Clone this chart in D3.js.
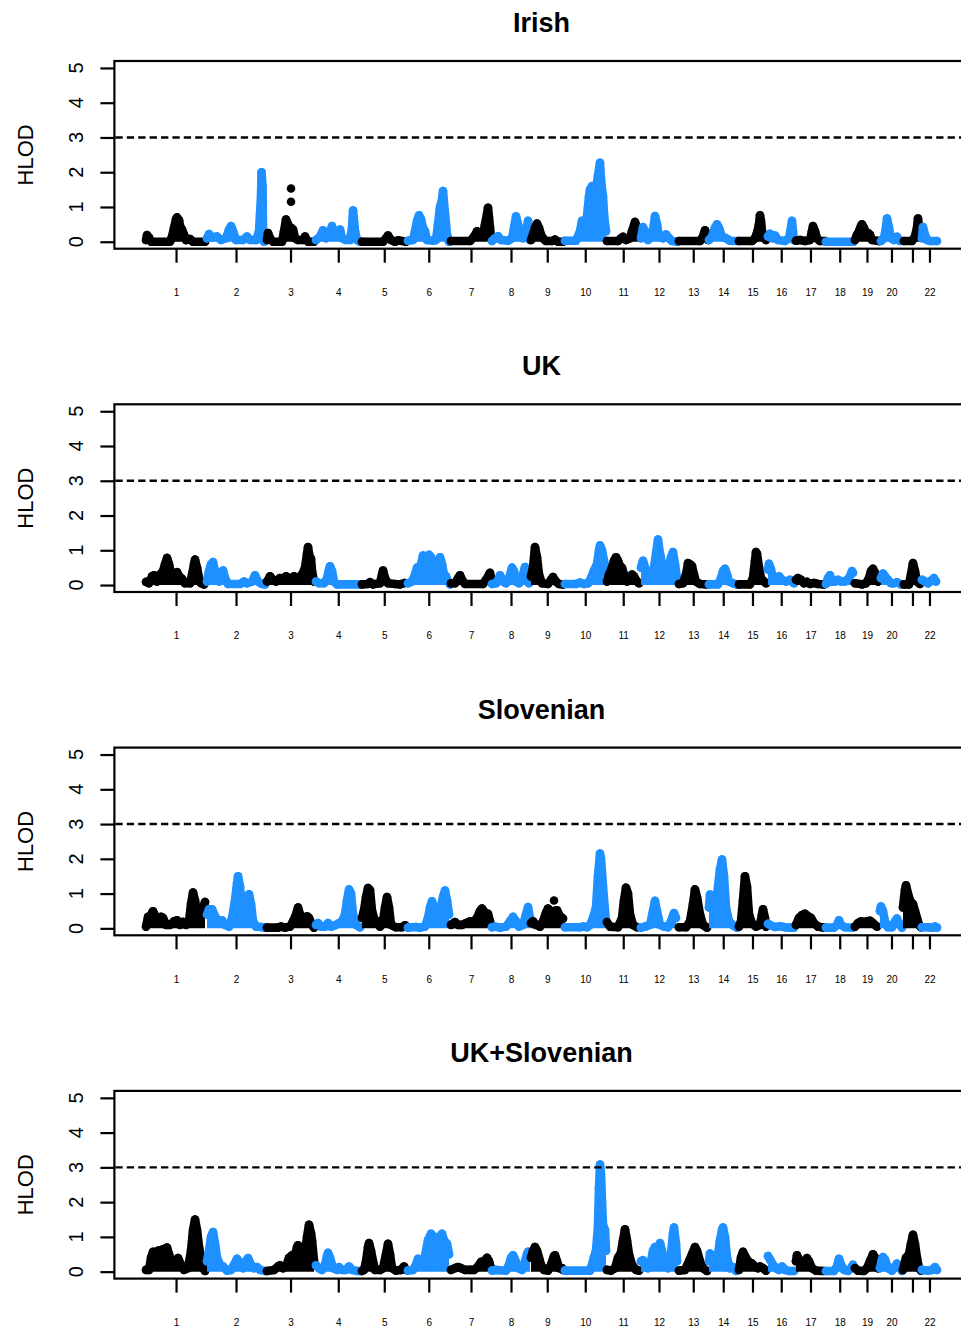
<!DOCTYPE html>
<html>
<head>
<meta charset="utf-8">
<script src="https://cdn.jsdelivr.net/npm/d3@7"></script>
<style>
  body { margin: 0; background: #fff; }
  svg { display: block; font-family: "Liberation Sans", Arial, Helvetica, sans-serif; }
</style>
</head>
<body>
<svg id="chart" width="961" height="1329"></svg>
<script>
// chromosome lengths (cM) and axis labels (21 is not labelled in the original)
const chromLenCM = [240, 240, 196, 186, 182, 174, 164, 156, 134, 170, 134, 152, 122, 118, 116, 114, 120, 114, 104, 92, 76, 60];
const tickLabels = ['1','2','3','4','5','6','7','8','9','10','11','12','13','14','15','16','17','18','19','20','','22'];
const yTicks = [0, 1, 2, 3, 4, 5];
const threshold = 3;
const panelTitles = ['Irish', 'UK', 'Slovenian', 'UK+Slovenian'];

// HLOD profiles, one list of [cM, HLOD] per chromosome
const irishHlod = [
  [[0,.05],[4,.19],[12,.12],[20,0],[96,0],[104,.15],[112,.4],[120,.65],[124,.7],[132,.62],[136,.45],[144,.35],[152,.2],[160,.05],[176,.08],[188,0],[236,0]],
  [[4,.1],[12,.22],[24,.12],[44,.15],[60,.05],[80,.1],[92,.35],[100,.45],[108,.3],[120,.05],[148,.05],[164,.15],[176,.05],[200,.05],[212,.3],[216,.8],[220,1.3],[222,2.0],[226,1.6],[228,.3],[232,0]],
  [[4,.05],[8,.25],[16,.1],[28,0],[64,0],[72,.3],[80,.64],[88,.5],[92,.2],[100,.4],[108,.35],[116,.1],[128,.05],[148,.05],[156,.15],[168,0],[192,0]],
  [[4,.05],[20,.15],[32,.33],[44,.1],[56,.2],[68,.45],[80,.15],[92,.2],[100,.35],[108,.1],[124,.05],[140,.05],[148,.4],[152,.9],[156,.6],[160,.3],[168,.05],[180,0]],
  [[2,0],[86,0],[98,.1],[106,.18],[118,.05],[134,0],[146,.04],[178,0]],
  [[4,.03],[24,.05],[32,.3],[40,.6],[48,.76],[56,.65],[64,.4],[72,.3],[80,.05],[104,.03],[116,.05],[124,.5],[132,1.0],[140,1.2],[144,1.46],[148,1.1],[152,.8],[156,.5],[160,.2],[168,0]],
  [[2,.02],[78,.02],[94,.15],[106,.3],[118,.15],[130,.2],[138,.5],[146,.8],[150,.98],[154,.7],[158,.4],[162,.1]],
  [[2,.02],[14,.1],[26,.16],[38,.05],[66,.03],[82,.1],[90,.4],[98,.73],[106,.5],[114,.2],[126,.1],[138,.3],[146,.6],[150,.3],[154,.05]],
  [[2,.05],[10,.2],[18,.4],[26,.52],[34,.4],[42,.2],[50,.1],[62,.02],[86,.02],[98,.06],[110,0],[130,0]],
  [[4,.03],[48,.03],[64,.3],[72,.6],[80,.3],[88,.5],[96,1.0],[100,1.3],[104,1.5],[112,1.6],[120,1.45],[128,1.5],[136,1.9],[144,2.27],[148,1.8],[152,1.5],[156,1.3],[160,.8],[164,.5],[168,.3]],
  [[2,.02],[46,.02],[58,.1],[66,.14],[78,.05],[94,.1],[102,.3],[114,.57],[122,.4],[130,.2]],
  [[4,.1],[12,.42],[20,.3],[32,.05],[48,.2],[56,.5],[60,.74],[68,.5],[76,.15],[92,.1],[104,.21],[116,.1],[128,.02],[148,0]],
  [[4,.02],[88,.02],[100,.15],[108,.33],[116,.2],[120,.05]],
  [[2,.05],[14,.15],[26,.4],[34,.5],[42,.4],[54,.15],[70,.1],[86,.03],[114,.02]],
  [[4,.02],[56,.02],[68,.1],[76,.25],[84,.5],[88,.76],[92,.6],[96,.3],[104,.15],[112,.05]],
  [[4,.15],[12,.23],[24,.1],[32,.18],[44,.05],[72,.02],[88,.1],[96,.4],[100,.6],[104,.3],[108,.05]],
  [[2,.03],[18,.05],[38,.02],[58,.05],[66,.3],[70,.45],[78,.3],[86,.1],[98,.02],[118,.02]],
  [[2,0],[112,0]],
  [[4,.05],[12,.2],[20,.3],[28,.45],[32,.5],[40,.4],[48,.2],[56,.25],[64,.2],[72,.05],[100,.02]],
  [[4,.02],[16,.1],[24,.4],[28,.67],[36,.4],[44,.1],[56,.05],[68,.14],[80,.02]],
  [[4,.02],[36,.02],[48,.15],[56,.4],[60,.67],[64,.45],[72,.2]],
  [[0,.1],[4,.42],[12,.2],[20,.05],[36,.02],[60,.02]]
];
const irishExtra = [[3, 100, 1.53], [3, 100, 1.15]]; // [chromosome, cM, HLOD]

const ukHlod = [
  [[0,.09],[12,.05],[24,.25],[32,.28],[44,.1],[56,.3],[68,.4],[76,.6],[84,.78],[92,.6],[100,.3],[112,.2],[124,.37],[132,.25],[144,.18],[156,.05],[176,.05],[184,.3],[192,.6],[196,.73],[204,.5],[212,.2],[220,.05],[232,.02]],
  [[4,.1],[12,.4],[20,.6],[28,.66],[36,.4],[44,.2],[52,.1],[60,.3],[68,.42],[76,.2],[88,.03],[136,.03],[152,.1],[164,.05],[184,.1],[196,.28],[208,.1],[224,.03],[236,.02]],
  [[4,.1],[16,.25],[28,.15],[40,.1],[56,.2],[68,.15],[80,.25],[96,.15],[112,.25],[128,.2],[144,.3],[156,.5],[164,.9],[168,1.09],[172,.9],[176,.6],[180,.76],[184,.4],[192,.1]],
  [[4,.1],[16,.05],[36,.05],[48,.2],[56,.45],[60,.54],[68,.4],[76,.1],[88,.02],[180,.02]],
  [[2,.02],[26,.03],[34,.08],[46,.02],[74,.05],[82,.3],[86,.42],[94,.2],[106,.05],[134,.03],[154,.02],[174,.06]],
  [[4,.05],[20,.1],[32,.3],[40,.5],[48,.4],[56,.6],[64,.85],[72,.7],[80,.7],[88,.87],[96,.8],[104,.6],[112,.55],[120,.6],[132,.8],[140,.6],[148,.3],[156,.25],[164,.1],[172,.02]],
  [[2,.05],[18,.05],[30,.2],[38,.28],[46,.15],[58,.03],[130,.03],[142,.15],[154,.3],[158,.35],[162,.2]],
  [[2,.03],[18,.05],[30,.2],[34,.28],[46,.1],[58,.05],[70,.2],[82,.5],[90,.4],[98,.1],[110,.05],[122,.2],[134,.52],[142,.3],[150,.05]],
  [[2,.25],[10,.5],[18,1.09],[26,.8],[34,.3],[46,.05],[70,.03],[82,.15],[90,.23],[102,.1],[114,.03],[130,.02]],
  [[4,.03],[48,.03],[64,.07],[80,.03],[96,.05],[108,.2],[120,.42],[132,.6],[140,1.0],[144,1.14],[152,1.0],[160,.7],[168,.4]],
  [[2,.1],[10,.3],[22,.5],[30,.7],[38,.8],[46,.7],[54,.55],[62,.5],[70,.3],[82,.1],[94,.15],[102,.3],[110,.25],[122,.1],[130,.05]],
  [[4,.5],[12,.7],[20,.5],[32,.2],[44,.3],[56,.5],[64,.9],[72,1.31],[80,.9],[92,.5],[104,.4],[116,.5],[124,.8],[132,.95],[140,.6],[148,.2]],
  [[4,.03],[20,.05],[32,.3],[40,.63],[48,.6],[56,.55],[64,.3],[72,.1],[88,.03],[116,.02]],
  [[2,.02],[38,.02],[50,.2],[58,.4],[66,.47],[74,.3],[82,.1],[98,.05],[114,.02]],
  [[4,.02],[48,.02],[60,.2],[68,.7],[72,.95],[76,.9],[84,.5],[92,.2],[104,.1],[112,.05]],
  [[4,.45],[8,.61],[16,.45],[24,.2],[36,.15],[48,.25],[60,.15],[76,.1],[92,.15],[108,.05]],
  [[2,.15],[10,.2],[22,.15],[34,.05],[46,.09],[58,.03],[74,.06],[90,.03],[114,.02]],
  [[2,.03],[10,.2],[18,.28],[26,.1],[38,.1],[50,.15],[62,.1],[78,.1],[94,.2],[106,.4],[110,.35]],
  [[4,.05],[32,.02],[48,.05],[60,.2],[68,.4],[76,.47],[84,.35],[96,.1]],
  [[4,.2],[12,.33],[20,.25],[32,.15],[44,.05],[56,.05],[68,.08],[84,.02]],
  [[4,.02],[24,.02],[32,.3],[40,.63],[48,.4],[56,.1],[68,.03]],
  [[0,.15],[12,.1],[24,.05],[36,.12],[48,.2],[56,.1]]
];
const ukExtra = [];

const slovenianHlod = [
  [[0,.05],[8,.33],[16,.3],[24,.45],[28,.49],[40,.3],[52,.2],[60,.33],[68,.3],[80,.1],[96,.1],[112,.2],[124,.23],[136,.1],[148,.18],[160,.1],[172,.2],[180,.7],[188,1.03],[196,.8],[204,.4],[216,.3],[228,.6],[236,.76]],
  [[4,.4],[12,.55],[24,.55],[36,.35],[48,.2],[64,.23],[76,.1],[92,.05],[104,.3],[116,.8],[124,1.3],[128,1.5],[136,1.2],[144,.5],[152,.3],[160,.5],[168,.85],[172,.98],[180,.7],[188,.2],[200,.05],[220,.04],[236,.02]],
  [[4,.02],[48,.02],[60,.05],[76,.02],[96,.05],[108,.2],[120,.4],[128,.6],[136,.4],[144,.2],[152,.25],[164,.35],[172,.3],[184,.1],[192,.02]],
  [[4,.1],[12,.15],[24,.05],[40,.05],[52,.15],[64,.05],[84,.1],[96,.15],[108,.2],[120,.4],[128,.8],[136,1.12],[144,1.0],[152,.4],[164,.1],[180,.03]],
  [[2,.3],[10,.52],[18,.9],[26,1.16],[34,1.1],[42,.5],[54,.2],[62,.2],[74,.05],[86,.2],[94,.6],[102,.9],[110,.6],[118,.1],[138,.03],[162,.03],[174,.09]],
  [[4,.02],[36,.04],[52,.02],[72,.05],[84,.3],[92,.6],[100,.78],[108,.6],[116,.3],[124,.3],[132,.5],[144,.9],[152,1.09],[160,.8],[168,.4]],
  [[2,.1],[18,.18],[30,.1],[46,.1],[62,.15],[78,.2],[94,.2],[106,.3],[118,.5],[126,.57],[138,.45],[150,.42],[158,.2]],
  [[2,.03],[14,.05],[34,.02],[58,.05],[74,.2],[86,.33],[98,.2],[110,.05],[126,.1],[138,.4],[146,.61],[154,.3]],
  [[2,.15],[10,.2],[22,.1],[38,.05],[50,.2],[62,.45],[70,.57],[82,.45],[94,.5],[106,.52],[118,.35],[130,.28]],
  [[4,.03],[64,.03],[76,.05],[92,.03],[104,.1],[116,.3],[128,.6],[136,1.5],[144,2.15],[148,2.0],[156,1.2],[164,.5],[168,.2]],
  [[2,.18],[14,.05],[46,.03],[62,.3],[70,.8],[78,1.17],[86,1.0],[94,.4],[106,.1],[122,.03]],
  [[4,.02],[20,.05],[40,.1],[52,.5],[60,.79],[68,.5],[80,.1],[96,.05],[112,.03],[124,.2],[136,.44],[144,.3]],
  [[4,.03],[32,.03],[48,.2],[60,.7],[68,1.12],[76,.9],[88,.4],[100,.1],[116,.02]],
  [[2,.6],[6,.97],[14,.8],[22,.6],[30,.7],[38,1.2],[46,1.7],[54,1.98],[62,1.5],[70,.6],[82,.2],[98,.09],[114,.02]],
  [[4,.05],[12,.2],[20,.8],[28,1.5],[36,1.2],[44,.4],[56,.15],[72,.05],[88,.1],[96,.4],[100,.55],[108,.3],[112,.05]],
  [[4,.13],[16,.08],[32,.04],[52,.06],[72,.03],[92,.02],[108,.02]],
  [[2,.1],[14,.3],[26,.38],[38,.42],[50,.35],[62,.3],[74,.15],[90,.05],[114,.02]],
  [[2,.02],[34,.02],[46,.1],[54,.23],[62,.1],[78,.03],[110,.02]],
  [[4,.05],[16,.15],[28,.2],[40,.18],[52,.2],[64,.22],[76,.15],[92,.05]],
  [[0,.5],[4,.63],[12,.5],[20,.2],[32,.03],[48,.03],[60,.2],[68,.28],[76,.15],[88,.02]],
  [[0,.6],[8,1.1],[12,1.24],[20,1.0],[28,.8],[40,.7],[48,.5],[56,.3],[64,.1],[72,.03]],
  [[0,.03],[24,.03],[40,.02],[52,.05],[60,.02]]
];
const slovenianExtra = [[9, 94, 0.8]];

const ukSlovenianHlod = [
  [[0,.05],[12,.05],[20,.4],[28,.57],[36,.4],[48,.6],[60,.62],[72,.65],[84,.69],[92,.5],[104,.2],[116,.3],[128,.39],[140,.2],[152,.05],[168,.1],[180,.6],[188,1.2],[196,1.5],[204,1.2],[212,.7],[220,.4],[228,.1],[236,.02]],
  [[4,.3],[12,.6],[20,1.0],[28,1.14],[36,.8],[44,.4],[56,.2],[68,.15],[84,.03],[100,.05],[112,.2],[124,.37],[136,.25],[148,.1],[160,.3],[168,.39],[180,.2],[192,.1],[204,.13],[216,.05],[236,.02]],
  [[4,.02],[32,.05],[48,.15],[56,.18],[68,.1],[80,.15],[92,.4],[104,.47],[116,.5],[124,.7],[128,.76],[136,.6],[148,.4],[156,.5],[164,1.0],[172,1.35],[180,1.1],[184,.9],[192,.3]],
  [[4,.18],[16,.1],[28,.05],[40,.2],[48,.45],[52,.54],[60,.4],[72,.1],[88,.05],[96,.13],[108,.05],[124,.05],[136,.15],[148,.05],[168,.02],[184,.02]],
  [[2,.02],[10,.05],[18,.3],[26,.7],[30,.82],[38,.6],[46,.3],[54,.05],[74,.05],[86,.1],[98,.5],[106,.8],[114,.5],[122,.1],[138,.03],[158,.05],[170,.15],[178,.05]],
  [[4,.03],[24,.05],[36,.2],[44,.37],[52,.2],[64,.2],[76,.6],[84,.9],[96,1.09],[108,1.0],[120,.95],[128,1.0],[140,1.09],[148,.9],[160,.8],[168,.5]],
  [[2,.05],[18,.1],[30,.13],[42,.1],[58,.05],[78,.05],[94,.05],[110,.15],[122,.28],[134,.3],[146,.4],[154,.3],[162,.1]],
  [[2,.03],[18,.05],[34,.04],[58,.03],[70,.2],[78,.4],[86,.47],[94,.35],[106,.1],[122,.05],[134,.3],[142,.5],[146,.57],[154,.4]],
  [[2,.4],[10,.6],[18,.71],[26,.6],[34,.4],[42,.2],[54,.05],[70,.03],[82,.2],[94,.45],[98,.47],[106,.3],[114,.1],[126,.1],[130,.05]],
  [[4,.03],[104,.03],[112,.2],[120,.42],[128,.6],[136,1.3],[140,2.4],[144,3.08],[148,2.8],[152,2.0],[156,1.35],[164,1.2],[168,.6]],
  [[2,.05],[18,.03],[34,.1],[46,.4],[58,.55],[66,.9],[74,1.22],[82,.9],[90,.5],[102,.2],[118,.05],[130,.03]],
  [[4,.3],[12,.33],[20,.2],[32,.1],[44,.3],[52,.6],[60,.71],[72,.7],[80,.82],[88,.6],[100,.2],[112,.1],[124,.5],[132,1.1],[136,1.27],[144,.8],[148,.3]],
  [[4,.03],[28,.05],[44,.3],[56,.5],[68,.71],[76,.6],[88,.3],[100,.1],[116,.02]],
  [[2,.3],[6,.52],[14,.4],[26,.3],[38,.5],[46,.9],[54,1.2],[58,1.27],[66,1.0],[74,.4],[86,.1],[98,.13],[110,.02]],
  [[4,.05],[12,.4],[20,.57],[28,.45],[40,.3],[56,.23],[68,.15],[80,.1],[88,.15],[100,.1],[112,.03]],
  [[4,.45],[12,.35],[24,.2],[36,.1],[48,.05],[60,.15],[72,.05],[88,.02],[108,.02]],
  [[2,.3],[6,.47],[14,.35],[26,.15],[38,.3],[46,.39],[54,.3],[66,.1],[82,.03],[114,.02]],
  [[2,.02],[34,.02],[46,.15],[54,.37],[62,.2],[74,.05],[90,.02],[102,.1],[110,.2]],
  [[4,.1],[16,.03],[40,.02],[52,.1],[64,.3],[76,.5],[84,.4],[96,.1]],
  [[0,.1],[8,.35],[12,.42],[20,.35],[32,.1],[48,.03],[60,.15],[68,.23],[76,.15],[88,.02]],
  [[0,.05],[12,.4],[24,.5],[32,.8],[40,1.06],[48,.8],[56,.4],[64,.1],[72,.03]],
  [[0,.05],[24,.03],[40,.05],[52,.13],[60,.05]]
];
const ukSlovenianExtra = [];

const panels = [
  { title: panelTitles[0], hlod: irishHlod, extra: irishExtra },
  { title: panelTitles[1], hlod: ukHlod, extra: ukExtra },
  { title: panelTitles[2], hlod: slovenianHlod, extra: slovenianExtra },
  { title: panelTitles[3], hlod: ukSlovenianHlod, extra: ukSlovenianExtra }
];

const colors = ['#000000', '#1E90FF'];
const panelStep = 343.3;
const box = { left: 114.4, right: 968.6, top: 61, bottom: 248.7 };
const dotR = 4.3;

const svg = d3.select('#chart');
svg.append('rect').attr('width', 961).attr('height', 1329).attr('fill', '#fff');

const chromStart = d3.cumsum([0, ...chromLenCM]);
const genomeLen = chromStart[chromStart.length - 1];
const chromMid = chromLenCM.map((len, i) => chromStart[i] + len / 2);

// R-style 4% axis extension
const xPad = genomeLen * 0.04;
const x = d3.scaleLinear().domain([-xPad, genomeLen + xPad]).range([box.left, box.right]);
const y = d3.scaleLinear().domain([-0.2, 5.2]).range([box.bottom, box.top]);

panels.forEach((p, k) => {
  const g = svg.append('g').attr('transform', `translate(0,${k * panelStep})`);

  // title
  g.append('text')
    .attr('x', (box.left + box.right) / 2)
    .attr('y', 32)
    .attr('text-anchor', 'middle')
    .style('font-size', '27px')
    .style('font-weight', 'bold')
    .text(p.title);

  // y axis title
  g.append('text')
    .attr('transform', `translate(33,${(box.top + box.bottom) / 2}) rotate(-90)`)
    .attr('text-anchor', 'middle')
    .style('font-size', '22px')
    .text('HLOD');

  // data: chromosome by chromosome, alternating colours
  const area = d3.area().x(d => x(d.gx)).y0(y(0)).y1(d => y(d.v));
  const line = d3.line().x(d => x(d.gx)).y(d => y(d.v));

  p.hlod.forEach((pts, i) => {
    const data = pts.map(([cm, v]) => ({ gx: chromStart[i] + cm, v }));
    const col = colors[i % 2];
    g.append('path').datum(data)
      .attr('d', area)
      .attr('fill', col);
    g.append('path').datum(data)
      .attr('d', line)
      .attr('fill', 'none')
      .attr('stroke', col)
      .attr('stroke-width', dotR * 2)
      .attr('stroke-linejoin', 'round')
      .attr('stroke-linecap', 'round');
    g.selectAll(null).data(data).enter().append('circle')
      .attr('cx', d => x(d.gx))
      .attr('cy', d => y(d.v))
      .attr('r', dotR)
      .attr('fill', col);
  });

  g.selectAll(null).data(p.extra).enter().append('circle')
    .attr('cx', d => x(chromStart[d[0] - 1] + d[1]))
    .attr('cy', d => y(d[2]))
    .attr('r', dotR)
    .attr('fill', d => colors[(d[0] - 1) % 2]);

  // threshold line
  g.append('line')
    .attr('x1', box.left + 1).attr('x2', box.right)
    .attr('y1', y(threshold)).attr('y2', y(threshold))
    .attr('stroke', '#000')
    .attr('stroke-width', 2.4)
    .attr('stroke-dasharray', '7.3,4.1');

  // plot box
  g.append('rect')
    .attr('x', box.left).attr('y', box.top)
    .attr('width', box.right - box.left)
    .attr('height', box.bottom - box.top)
    .attr('fill', 'none')
    .attr('stroke', '#000')
    .attr('stroke-width', 2.2);

  // x axis
  const xAxis = g.append('g')
    .attr('transform', `translate(0,${box.bottom})`)
    .call(d3.axisBottom(x).tickValues(chromMid).tickFormat((d, i) => tickLabels[i]).tickSize(14));
  xAxis.select('.domain').remove();
  xAxis.selectAll('line').attr('stroke-width', 2.2);
  xAxis.selectAll('text')
    .attr('y', 47.3).attr('dy', null)
    .style('font-size', '10px')
    .style('font-family', '"Liberation Sans", Arial, sans-serif')
    .attr('fill', '#000');

  // y axis
  const yAxis = g.append('g')
    .attr('transform', `translate(${box.left},0)`)
    .call(d3.axisLeft(y).tickValues(yTicks).tickSize(14).tickFormat(''));
  yAxis.select('.domain').remove();
  yAxis.selectAll('line').attr('stroke-width', 2.2);

  g.selectAll(null).data(yTicks).enter().append('text')
    .attr('transform', d => `translate(83,${y(d)}) rotate(-90)`)
    .attr('text-anchor', 'middle')
    .style('font-size', '20px')
    .text(d => d);
});
</script>
</body>
</html>
